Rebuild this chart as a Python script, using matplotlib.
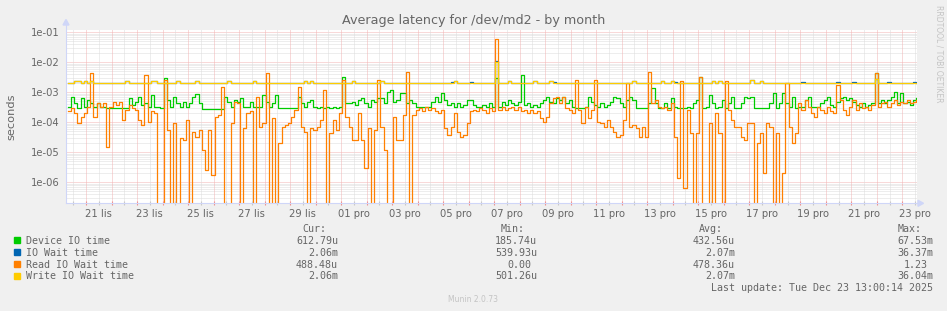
import matplotlib
matplotlib.use('Agg')
import matplotlib.pyplot as plt
import matplotlib.dates as mdates
import numpy as np
import pandas as pd
from matplotlib.patches import Rectangle, Polygon
from matplotlib.ticker import FixedLocator, FuncFormatter, LogLocator, NullFormatter

W, H = 947, 311

# samples every 3 hours, first one at 2025-11-20 07:00, last at 2025-12-23 13:00
start = '2025-11-20 07:00'
step = '3h'

device_io = [
    3.3e-4, 6.8e-4, 4.5e-4, 2.9e-4, 6.3e-4, 3.3e-4, 5.6e-4, 4.3e-4, 3.3e-4, 4.5e-4,
    3.3e-4, 3.3e-4, 2.9e-4, 2.9e-4, 2.9e-4, 2.9e-4, 2.9e-4, 2.9e-4, 2.9e-4, 6.3e-4,
    3.7e-4, 4.9e-4, 7.2e-4, 3.7e-4, 4.3e-4, 3.3e-4, 8.2e-4, 3.3e-4, 3.3e-4, 2.9e-4,
    2.9e-3, 5.6e-4, 3.3e-4, 7.2e-4, 4.3e-4, 3.3e-4, 4.9e-4, 3.3e-4, 4.3e-4, 7.2e-4,
    8.5e-4, 4.3e-4, 2.7e-4, 2.7e-4, 2.7e-4, 2.7e-4, 2.7e-4, 2.7e-4, 2.7e-4, 7.2e-4,
    4.9e-4, 3.3e-4, 5.6e-4, 4.9e-4, 6.3e-4, 3.3e-4, 3.3e-4, 4.9e-4, 3.3e-4, 3.3e-4,
    3.3e-4, 8.2e-4, 4.9e-4, 3.3e-4, 4.3e-4, 8.2e-4, 2.9e-4, 2.9e-4, 2.9e-4, 2.9e-4,
    2.9e-4, 2.9e-4, 7.2e-4, 4.3e-4, 3.3e-4, 4.9e-4, 5.6e-4, 3.3e-4, 2.9e-4, 3.3e-4,
    2.9e-4, 3.3e-4, 2.9e-4, 3.3e-4, 2.9e-4, 3.3e-4, 3.3e-3, 4.5e-4, 4.3e-4, 4.9e-4,
    3.7e-4, 5.6e-4, 6.3e-4, 4.3e-4, 3.3e-4, 5.6e-4, 4.9e-4, 6.3e-4, 6.3e-4, 4.3e-4,
    1.05e-3, 1.2e-3, 4.9e-4, 5.6e-4, 9.3e-4, 9.3e-4, 4.3e-4, 5.6e-4, 4.3e-4, 3.3e-4,
    3.3e-4, 3.3e-4, 3.3e-4, 3.3e-4, 4.9e-4, 7.2e-4, 4.9e-4, 9.3e-4, 5.6e-4, 3.7e-4,
    4.3e-4, 3.3e-4, 4.3e-4, 3.3e-4, 3.7e-4, 5.6e-4, 5.6e-4, 3.7e-4, 3.3e-4, 3.3e-4,
    3.7e-4, 3.3e-4, 4.3e-4, 3.3e-4, 2.9e-3, 3.3e-4, 4.9e-4, 3.7e-4, 5.6e-4, 4.3e-4,
    3.7e-4, 4.9e-4, 3.8e-3, 3.7e-4, 4.3e-4, 3.3e-4, 3.7e-4, 3.3e-4, 4.3e-4, 5.6e-4,
    7.2e-4, 4.9e-4, 4.3e-4, 6.3e-4, 5.6e-4, 7.2e-4, 4.3e-4, 5.6e-4, 3.3e-4, 2.9e-4,
    2.9e-4, 2.9e-4, 3.3e-4, 7.2e-4, 4.9e-4, 3.7e-4, 3.3e-4, 4.3e-4, 3.3e-4, 3.7e-4,
    4.9e-4, 7.2e-4, 6.3e-4, 4.3e-4, 3.3e-4, 5.6e-4, 7.2e-4, 5.6e-4, 2.9e-4, 2.9e-4,
    2.9e-4, 2.9e-4, 4.3e-4, 1.36e-3, 4.3e-4, 2.9e-4, 2.9e-4, 4.3e-4, 2.9e-4, 6.3e-4,
    3.3e-4, 2.9e-4, 2.9e-4, 2.9e-4, 3.3e-4, 2.9e-4, 4.3e-4, 5.6e-4, 3.2e-3, 2.9e-4,
    3.3e-4, 8.2e-4, 4.3e-4, 2.9e-4, 3.3e-4, 5.6e-4, 2.9e-4, 4.3e-4, 7.2e-4, 2.9e-4,
    2.9e-4, 4.3e-4, 7.2e-4, 6.3e-4, 7.2e-4, 2.9e-4, 2.9e-4, 2.9e-4, 2.9e-4, 2.9e-4,
    4.3e-4, 9.3e-4, 2.9e-4, 4.3e-4, 9.3e-4, 4.3e-4, 3.3e-4, 7.2e-4, 2.9e-4, 3.3e-4,
    3.3e-4, 5.6e-4, 7.2e-4, 3.3e-4, 3.3e-4, 3.3e-4, 4.3e-4, 5.6e-4, 7.2e-4, 3.7e-4,
    3.3e-4, 4.9e-4, 6.3e-4, 7.2e-4, 5.6e-4, 6.3e-4, 4.9e-4, 3.7e-4, 3.3e-4, 4.3e-4,
    3.3e-4, 3.7e-4, 4.3e-4, 4.3e-3, 4.3e-4, 5.6e-4, 4.3e-4, 5.6e-4, 7.2e-4, 1.05e-3,
    4.3e-4, 9.3e-4, 4.3e-4, 4.9e-4, 3.7e-4, 5.6e-4, 6.3e-4,
]

# 0 means no read wait at all (drops off the bottom of the log axis)
read_wait = [
    2.3e-4, 2.9e-4, 2e-4, 9.3e-5, 1.55e-4, 2e-4, 3.3e-4, 4.3e-3, 1.55e-4, 4.3e-4,
    3.3e-4, 4.3e-4, 1.55e-5, 3.3e-4, 4.9e-4, 3.7e-4, 4.9e-4, 1.2e-4, 2.6e-4, 3.7e-4,
    2.9e-4, 2.6e-4, 1.2e-4, 8.2e-5, 3.8e-3, 1.05e-4, 2.3e-4, 2e-4, 0, 0,
    2.6e-3, 5.6e-5, 0, 9.3e-5, 0, 2.9e-5, 2.6e-5, 1.2e-4, 0, 4.9e-5,
    3.3e-5, 5.6e-5, 1.2e-5, 2.6e-6, 5.6e-5, 1.75e-6, 1.55e-4, 1.75e-4, 1.55e-3, 0,
    0, 9.3e-5, 4.9e-4, 4.3e-4, 0, 6.3e-5, 2e-4, 2.3e-4, 0, 7.2e-4,
    7.2e-5, 9.3e-5, 4.3e-3, 0, 1.35e-4, 0, 2e-5, 7.2e-5, 8.2e-5, 9.3e-5,
    1.55e-4, 2.6e-4, 1.55e-3, 7.2e-5, 4.9e-5, 0, 6.3e-5, 5.6e-5, 7.2e-5, 1.2e-4,
    1.2e-3, 0, 4.3e-5, 1.2e-4, 5.6e-5, 2e-4, 2.6e-3, 1.55e-4, 7.2e-5, 2.6e-5,
    2.6e-5, 2e-4, 2.6e-5, 2.9e-6, 6.3e-5, 0, 5.6e-5, 2.5e-3, 7.2e-5, 1.2e-5,
    0, 0, 1.55e-4, 2.6e-5, 2.6e-5, 1.75e-4, 4.9e-3, 0, 1.75e-4, 2.6e-4,
    2.9e-4, 2.3e-4, 3.3e-4, 2.6e-4, 2.9e-4, 2.3e-4, 2e-4, 2.6e-4, 6.3e-5, 3.7e-5,
    7.2e-5, 2e-4, 4.9e-5, 3.3e-5, 3.7e-5, 9.3e-5, 2.3e-4, 2.6e-4, 2.3e-4, 2.9e-4,
    2.6e-4, 2e-4, 2.9e-4, 2.3e-4, 6e-2, 2.6e-4, 3.3e-4, 2.6e-4, 2.9e-4, 3.3e-4,
    2.6e-4, 3.3e-4, 2.3e-4, 2.6e-4, 2e-4, 2.6e-4, 2e-4, 2.3e-4, 1.35e-4, 1.05e-4,
    1.55e-4, 4.3e-4, 6.3e-4, 7.2e-4, 4.3e-4, 7.2e-4, 2.9e-4, 2.6e-4, 2e-4, 2.6e-3,
    2.6e-4, 9.3e-5, 3.3e-4, 1.35e-4, 2.6e-4, 2.6e-3, 1.05e-4, 9.3e-5, 7.2e-5, 1.2e-4,
    7.2e-5, 4.9e-5, 3.3e-5, 3.7e-5, 1.2e-4, 2e-3, 7.2e-5, 8.2e-5, 6.3e-5, 3.3e-5,
    7.2e-5, 3.3e-5, 4.9e-3, 4.3e-4, 5.6e-4, 3.3e-4, 2.9e-4, 3.3e-4, 2.6e-4, 4.3e-4,
    3.3e-5, 1.35e-6, 2.3e-3, 6.3e-7, 2.6e-4, 4.3e-5, 0, 4.3e-5, 3.3e-3, 0,
    0, 9.3e-5, 0, 2e-4, 4.3e-5, 0, 2.3e-3, 2.6e-4, 1.2e-4, 7.2e-5,
    7.2e-5, 3.3e-5, 2.6e-5, 9.3e-5, 9.3e-5, 0, 2e-5, 4.3e-5, 2e-6, 9.3e-5,
    7.2e-5, 0, 4.3e-5, 0, 2e-6, 2e-3, 7.2e-5, 2e-5, 4.3e-5, 4.3e-4,
    2.6e-4, 5.6e-4, 3.3e-4, 2e-4, 1.55e-4, 3.3e-4, 2.6e-4, 2e-4, 3.3e-4, 2.3e-4,
    2e-4, 1.75e-3, 5.6e-4, 2.6e-4, 1.75e-4, 3.3e-4, 5.6e-4, 2.6e-4, 4.3e-4, 2.9e-4,
    3.3e-4, 2.6e-4, 3.7e-4, 4.3e-3, 3.3e-4, 4.3e-4, 4.9e-4, 3.3e-4, 4.3e-4, 5.6e-4,
    3.7e-4, 4.9e-4, 4.3e-4, 5.6e-4, 4.3e-4, 4.9e-4, 5.6e-4,
]

# write wait sits flat at its usual level; the samples listed here stand out from it
write_level = 2.06e-3
write_bumps = {2: 2.3e-3, 3: 2.3e-3, 5: 2.3e-3, 7: 2.3e-3, 18: 2.3e-3, 26: 2.3e-3,
               27: 2.3e-3, 34: 2.3e-3, 40: 2.3e-3, 50: 2.3e-3, 58: 2.3e-3, 74: 2.3e-3,
               76: 2.3e-3, 89: 2.3e-3, 98: 2.3e-3, 121: 2.3e-3, 134: 1.0e-2, 138: 2.3e-3,
               146: 2.3e-3, 151: 2.3e-3, 177: 2.3e-3, 186: 2.3e-3, 189: 2.3e-3,
               202: 2.3e-3, 204: 2.3e-3, 214: 2.6e-3, 217: 2.3e-3, 253: 2.8e-3}
io_bumps = {120: 2.25e-3, 126: 2.25e-3, 134: 1.1e-2, 152: 2.25e-3, 190: 2.25e-3,
            230: 2.25e-3, 241: 2.25e-3, 246: 2.2e-3, 257: 2.2e-3, 265: 2.25e-3}

tick_labels = ['21 lis', '23 lis', '25 lis', '27 lis', '29 lis', '01 pro', '03 pro',
               '05 pro', '07 pro', '09 pro', '11 pro', '13 pro', '15 pro', '17 pro',
               '19 pro', '21 pro', '23 pro']

series_names = ['Device IO time', 'IO Wait time', 'Read IO Wait time', 'Write IO Wait time']
series_colors = ['#00CC00', '#0066B3', '#FF8000', '#FFCC00']
cur_vals = ['612.79u', '2.06m', '488.48u', '2.06m']
min_vals = ['185.74u', '539.93u', '0.00', '501.26u']
avg_vals = ['432.56u', '2.07m', '478.36u', '2.07m']
max_vals = ['67.53m', '36.37m', '1.23', '36.04m']

FONT = '#666666'
AXIS = '#CFD6F8'
MAJOR = '#F2B4B4'
MINOR = '#DCDCDC'


def fx(px):
    return px / W


def fy(py):
    return 1 - py / H


n = len(device_io)
write_wait = [write_bumps.get(i, write_level) for i in range(n)]
io_wait = [io_bumps.get(i, write_bumps.get(i, write_level)) for i in range(n)]

fig = plt.figure(figsize=(W / 100, H / 100), dpi=100)
fig.patch.set_facecolor('#F0F0F0')

left, right, top, bottom = 66, 916.5, 30, 203.3
ax = fig.add_axes([fx(left), fy(bottom), fx(right - left), (bottom - top) / H])
ax.set_facecolor('white')
for s in ax.spines.values():
    s.set_visible(False)

times = mdates.date2num(pd.date_range(start, periods=n, freq=step))
for values, color in zip([device_io, io_wait, read_wait, write_wait], series_colors):
    ax.step(times, values, where='post', color=color, lw=0.9, zorder=3)

ax.set_yscale('log', nonpositive='clip')
ax.set_ylim(2e-7, 0.119)
ax.set_xlim(mdates.date2num(pd.Timestamp('2025-11-20 05:11')),
            mdates.date2num(pd.Timestamp('2025-12-23 13:21')))

# vertical grid: days (major) and half-days (minor)
midnights = mdates.date2num(pd.date_range('2025-11-21', '2025-12-23', freq='D'))
noons = mdates.date2num(pd.date_range('2025-11-20 12:00', '2025-12-23 12:00', freq='D'))
ax.vlines(noons, 2e-7, 0.119, colors=MINOR, lw=0.72, linestyles=(0, (1, 1)), zorder=1)
ax.vlines(midnights, 2e-7, 0.119, colors=MAJOR, lw=0.72, linestyles=(0, (1, 1)), zorder=1)
tr = ax.get_xaxis_transform()
ax.vlines(noons, -0.011, 0.011, colors='#C8C8C8', lw=0.8, transform=tr, clip_on=False, zorder=4)
ax.vlines(midnights, -0.011, 0.011, colors='#EE9090', lw=0.8, transform=tr, clip_on=False, zorder=4)

# x labels at noon every second day
label_pos = mdates.date2num(pd.date_range('2025-11-21 12:00', periods=len(tick_labels), freq='2D'))
ax.xaxis.set_major_locator(FixedLocator(label_pos))
ax.set_xticklabels(tick_labels)
ax.xaxis.set_minor_locator(FixedLocator([]))
ax.tick_params(axis='x', length=0, pad=3.8, labelsize=7.2, labelcolor=FONT)

# horizontal grid
ax.yaxis.set_major_locator(LogLocator(base=10, numticks=20))
ax.yaxis.set_minor_locator(LogLocator(base=10, subs=np.arange(2, 10), numticks=20))
ax.yaxis.set_major_formatter(FuncFormatter(lambda v, p: f'{v:.0e}'))
ax.yaxis.set_minor_formatter(NullFormatter())
ax.tick_params(axis='y', which='both', length=0, pad=4.8, labelsize=7.2, labelcolor=FONT)
ax.grid(True, axis='y', which='major', color=MAJOR, lw=0.72, linestyle=(0, (1, 1)), zorder=1)
ax.grid(True, axis='y', which='minor', color=MINOR, lw=0.72, linestyle=(0, (1, 1)), zorder=1)
ax.set_axisbelow(True)

# axis lines with arrows
fig.add_artist(plt.Line2D([fx(left), fx(919)], [fy(bottom), fy(bottom)], color=AXIS, lw=0.8))
fig.add_artist(plt.Line2D([fx(left), fx(left)], [fy(bottom), fy(24)], color=AXIS, lw=0.8))
fig.add_artist(Polygon([(fx(918), fy(200.3)), (fx(918), fy(206.3)), (fx(923.5), fy(203.3))],
                       closed=True, color=AXIS, transform=fig.transFigure))
fig.add_artist(Polygon([(fx(63), fy(25)), (fx(69), fy(25)), (fx(66), fy(19.5))],
                       closed=True, color=AXIS, transform=fig.transFigure))

# titles and watermarks
fig.text(fx(473.5), fy(24.2), 'Average latency for /dev/md2 - by month', ha='center',
         va='baseline', fontsize=9.2, color=FONT)
fig.text(fx(11), fy(116.5), 'seconds', rotation=90, ha='center', va='center',
         fontsize=8.2, color=FONT)
fig.text(fx(938.5), fy(53.5), 'RRDTOOL / TOBI OETIKER', rotation=270, ha='center',
         va='center', fontsize=5.5, color='#C4C4C4')
fig.text(fx(472.5), fy(300), 'Munin 2.0.73', ha='center', va='center', fontsize=5.5,
         color='#C4C4C4')

# legend
mono = 'DejaVu Sans Mono'
char_w = 6.0
headers = ['Cur:', 'Min:', 'Avg:', 'Max:']
col_right = [338, 537, 735, 933.3]
for hdr, xr in zip(headers, col_right):
    fig.text(fx(xr - 2 * char_w), fy(231.7), hdr, ha='right', va='baseline',
             family=mono, fontsize=7.2, color=FONT)

columns = [cur_vals, min_vals, avg_vals, max_vals]
for row, (name, color) in enumerate(zip(series_names, series_colors)):
    base = 243.7 + row * 11.9
    fig.add_artist(Rectangle((fx(14), fy(base - 0.4)), 6 / W, 6 / H, color=color,
                             transform=fig.transFigure))
    fig.text(fx(26), fy(base), name, ha='left', va='baseline', family=mono,
             fontsize=7.2, color=FONT)
    for vals, xr in zip(columns, col_right):
        txt = vals[row]
        shift = 0 if txt[-1].isalpha() else char_w
        fig.text(fx(xr - shift), fy(base), txt, ha='right', va='baseline',
                 family=mono, fontsize=7.2, color=FONT)

fig.text(fx(933), fy(291.2), 'Last update: Tue Dec 23 13:00:14 2025', ha='right',
         va='baseline', family=mono, fontsize=7.2, color=FONT)

fig.savefig('out.png', dpi=100, facecolor=fig.get_facecolor())
